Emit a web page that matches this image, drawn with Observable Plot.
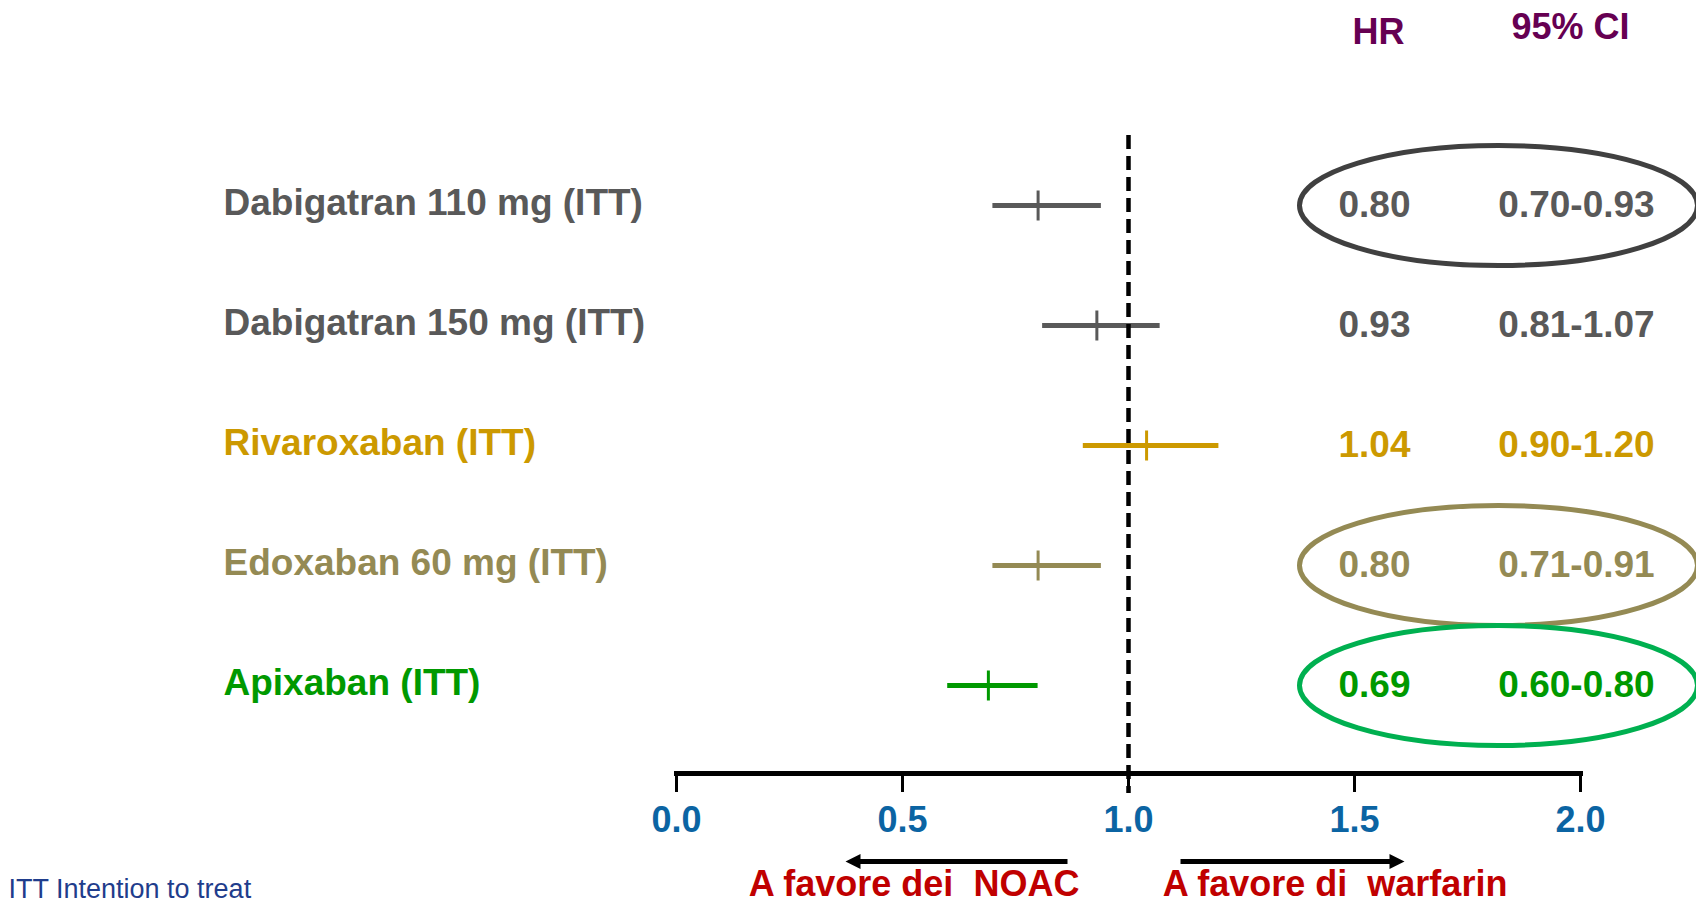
<!DOCTYPE html>
<html>
<head>
<meta charset="utf-8">
<script src="https://cdn.jsdelivr.net/npm/d3@7"></script>
<script src="https://cdn.jsdelivr.net/npm/@observablehq/plot@0.6"></script>
<style>
  html, body { margin: 0; padding: 0; background: #fff; overflow: hidden; }
  #chart svg text { white-space: pre; }
</style>
</head>
<body>
<div id="chart"></div>
<script>
// ---- data ----
const drugs = [
  "Dabigatran 110 mg (ITT)",
  "Dabigatran 150 mg (ITT)",
  "Rivaroxaban (ITT)",
  "Edoxaban 60 mg (ITT)",
  "Apixaban (ITT)"
];
const hrValues = [0.80, 0.93, 1.04, 0.80, 0.69];
const ciLow    = [0.70, 0.81, 0.90, 0.70, 0.60];
const ciHigh   = [0.94, 1.07, 1.20, 0.94, 0.80];
const hrLabels = ["0.80", "0.93", "1.04", "0.80", "0.69"];
const ciLabels = ["0.70-0.93", "0.81-1.07", "0.90-1.20", "0.71-0.91", "0.60-0.80"];
const rowColors = ["#595959", "#595959", "#cc9900", "#948a54", "#009900"];
const circled = [true, false, false, true, true];
const circleColors = ["#404040", null, null, "#948a54", "#00b050"];
const xTicks = [0, 0.5, 1, 1.5, 2];
const columnHeaders = ["HR", "95% CI"];
const directionLabels = ["A favore dei  NOAC", "A favore di  warfarin"];
const footnote = "ITT Intention to treat";

const rows = drugs.map((drug, i) => ({
  drug, hr: hrValues[i], lo: ciLow[i], hi: ciHigh[i],
  hrLabel: hrLabels[i], ciLabel: ciLabels[i],
  color: rowColors[i], circled: circled[i], ring: circleColors[i]
}));

// ellipse symbol for the highlighted rows
const ellipse = (rx, ry) => ({
  draw(ctx) {
    const k = 0.5523, kx = rx * k, ky = ry * k;
    ctx.moveTo(rx, 0);
    ctx.bezierCurveTo(rx, ky, kx, ry, 0, ry);
    ctx.bezierCurveTo(-kx, ry, -rx, ky, -rx, 0);
    ctx.bezierCurveTo(-rx, -ky, -kx, -ry, 0, -ry);
    ctx.bezierCurveTo(kx, -ry, rx, -ky, rx, 0);
    ctx.closePath();
  }
});

// plain line shape for the point-estimate ticks
const lineShape = { draw(ctx, l) { ctx.moveTo(0, 0); ctx.lineTo(0, -l); } };

// filled arrow shape for the direction arrows
const arrowShape = {
  draw(ctx, l) {
    const hw = 2.5, hh = 7.5, hl = 15;
    ctx.moveTo(-hw, 0);
    ctx.lineTo(-hw, -(l - hl));
    ctx.lineTo(-hh, -(l - hl));
    ctx.lineTo(0, -l);
    ctx.lineTo(hh, -(l - hl));
    ctx.lineTo(hw, -(l - hl));
    ctx.lineTo(hw, 0);
    ctx.closePath();
  }
};

const font = "'Liberation Sans', Arial, Helvetica, sans-serif";

const chart = Plot.plot({
  width: 1696,
  height: 905,
  marginLeft: 676,
  marginRight: 116,
  marginTop: 135,
  marginBottom: 132,
  style: { fontFamily: font, background: "white", color: "black" },
  x: { domain: [0, 2], axis: null },
  y: { type: "point", domain: drugs, range: [205, 685], padding: 0, axis: null },
  marks: [
    // highlight ellipses
    Plot.dot(rows.filter(d => d.circled), {
      y: "drug", frameAnchor: "right", dx: -82, r: 10,
      symbol: ellipse(199, 60), fill: "none", stroke: "ring", strokeWidth: 5
    }),
    // confidence intervals
    Plot.ruleY(rows, { y: "drug", x1: "lo", x2: "hi", stroke: "color", strokeWidth: 5 }),
    // point estimates
    Plot.vector(rows, {
      x: "hr", y: "drug", length: 30, rotate: 0, anchor: "middle", shape: lineShape,
      stroke: "color", strokeWidth: 3, strokeLinecap: "butt", fill: "none"
    }),
    // reference line at HR = 1
    Plot.ruleX([1], { stroke: "black", strokeWidth: 4.5, strokeDasharray: "14,7", insetBottom: -20 }),
    // axis
    Plot.frame({ anchor: "bottom", stroke: "black", strokeWidth: 5 }),
    Plot.axisX(xTicks, {
      anchor: "bottom", tickFormat: d3.format(".1f"), tickSize: 19, tickPadding: 14,
      stroke: "black", strokeWidth: 3, fill: "#0b64a3", fontSize: 36, fontWeight: "bold", label: null
    }),
    // row labels
    Plot.text(rows, {
      y: "drug", text: "drug", frameAnchor: "left", dx: -453, dy: -2.5,
      textAnchor: "start", lineAnchor: "middle", fill: "color", fontSize: 37, fontWeight: "bold"
    }),
    // HR values
    Plot.text(rows, {
      y: "drug", text: "hrLabel", frameAnchor: "right", dx: -206, dy: 0,
      textAnchor: "middle", lineAnchor: "middle", fill: "color", fontSize: 37, fontWeight: "bold"
    }),
    // CI values
    Plot.text(rows, {
      y: "drug", text: "ciLabel", frameAnchor: "right", dx: -4, dy: 0,
      textAnchor: "middle", lineAnchor: "middle", fill: "color", fontSize: 37, fontWeight: "bold"
    }),
    // column headers
    Plot.text([columnHeaders[0]], {
      frameAnchor: "top-right", dx: -202, dy: -103, textAnchor: "middle", lineAnchor: "middle",
      fill: "#660052", fontSize: 36, fontWeight: "bold"
    }),
    Plot.text([columnHeaders[1]], {
      frameAnchor: "top-right", dx: -10, dy: -107.6, textAnchor: "middle", lineAnchor: "middle",
      fill: "#660052", fontSize: 36, fontWeight: "bold"
    }),
    // direction arrows
    Plot.vector([0], {
      frameAnchor: "bottom", dx: -61, dy: 88, length: 222, rotate: -90, anchor: "start",
      shape: arrowShape, fill: "black", stroke: "none"
    }),
    Plot.vector([0], {
      frameAnchor: "bottom", dx: 52, dy: 88, length: 224, rotate: 90, anchor: "start",
      shape: arrowShape, fill: "black", stroke: "none"
    }),
    // direction labels
    Plot.text([directionLabels[0]], {
      frameAnchor: "bottom", dx: -214.5, dy: 111.4, textAnchor: "middle", lineAnchor: "middle",
      fill: "#c00000", fontSize: 36, fontWeight: "bold"
    }),
    Plot.text([directionLabels[1]], {
      frameAnchor: "bottom", dx: 206.5, dy: 111.4, textAnchor: "middle", lineAnchor: "middle",
      fill: "#c00000", fontSize: 36, fontWeight: "bold"
    }),
    // footnote
    Plot.text([footnote], {
      frameAnchor: "bottom-left", dx: -668, dy: 116.3, textAnchor: "start", lineAnchor: "middle",
      fill: "#1f3d8c", fontSize: 27
    })
  ]
});

document.getElementById("chart").append(chart);
</script>
</body>
</html>
